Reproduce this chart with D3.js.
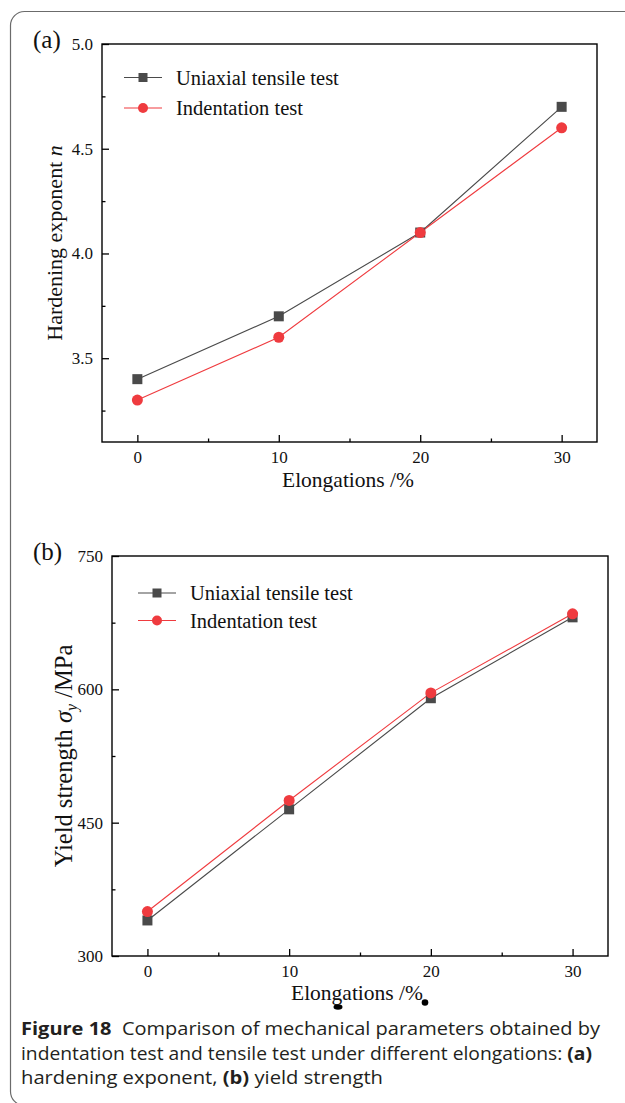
<!DOCTYPE html>
<html>
<head>
<meta charset="utf-8">
<script src="https://cdn.jsdelivr.net/npm/d3@7"></script>
<style>
  body { margin: 0; background: #fff; }
  svg { display: block; }
</style>
</head>
<body>
<div id="chart"></div>
<script>
// data
const elongations = [0, 10, 20, 30];
const seriesNames = ["Uniaxial tensile test", "Indentation test"];
const hardeningTensile = [3.4, 3.7, 4.1, 4.7];
const hardeningIndent = [3.3, 3.6, 4.1, 4.6];
const yieldTensile = [340, 465, 590, 681];
const yieldIndent = [350, 475, 596, 685];
const xTicks = [0, 10, 20, 30];
const hardeningTicks = [3.5, 4.0, 4.5, 5.0];
const yieldTicks = [300, 450, 600, 750];

const width = 625, height = 1103;
const serif = "'Liberation Serif', 'Times New Roman', serif";
const grey = "#4a4a4a", red = "#ef3b3f";

const svg = d3.select("#chart").append("svg")
    .attr("width", width)
    .attr("height", height);

// outer frame with rounded corners (right side runs off the page)
svg.append("rect")
    .attr("x", 10.5).attr("y", 11.5)
    .attr("width", 720).attr("height", 1094)
    .attr("rx", 14)
    .attr("fill", "none")
    .attr("stroke", "#6b6b6b")
    .attr("stroke-width", 1.2);

function panel(opt) {
  const g = svg.append("g");
  const x = d3.scaleLinear().domain([-2.5, 32.5]).range([opt.left, opt.right]);
  const y = d3.scaleLinear().domain(opt.yDomain).range([opt.bottom, opt.top]);

  // minor ticks
  g.append("g")
      .attr("transform", `translate(0,${opt.bottom})`)
      .call(d3.axisBottom(x).tickValues([5, 15, 25]).tickSize(-3.5).tickFormat(""))
      .call(a => a.select(".domain").remove());
  g.append("g")
      .attr("transform", `translate(${opt.left},0)`)
      .call(d3.axisLeft(y).tickValues(opt.minor).tickSize(-3.5).tickFormat(""))
      .call(a => a.select(".domain").remove());

  // major ticks + labels
  const xa = g.append("g")
      .attr("transform", `translate(0,${opt.bottom})`)
      .call(d3.axisBottom(x).tickValues(xTicks).tickSize(-7).tickPadding(opt.xPad).tickFormat(d3.format("d")));
  const ya = g.append("g")
      .attr("transform", `translate(${opt.left},0)`)
      .call(d3.axisLeft(y).tickValues(opt.ticks).tickSize(-7).tickPadding(9).tickFormat(opt.fmt));
  [xa, ya].forEach(a => {
    a.attr("font-size", 17).attr("font-family", serif);
    a.selectAll("text").attr("fill", "#111");
    a.select(".domain").remove();
  });
  g.selectAll("g.tick line").attr("stroke", "#000").attr("stroke-width", 1.3);

  // plot box
  g.append("rect")
      .attr("x", opt.left).attr("y", opt.top)
      .attr("width", opt.right - opt.left).attr("height", opt.bottom - opt.top)
      .attr("fill", "none").attr("stroke", "#000").attr("stroke-width", 1.4);

  // series
  const line = d3.line().x((d, i) => x(elongations[i])).y(d => y(d));
  const series = [
    { values: opt.tensile, color: grey, shape: "square" },
    { values: opt.indent, color: red, shape: "circle" }
  ];
  series.forEach(s => {
    g.append("path").datum(s.values)
        .attr("d", line)
        .attr("fill", "none")
        .attr("stroke", s.color)
        .attr("stroke-width", 1.1);
  });
  series.forEach(s => {
    const pts = g.selectAll(null).data(s.values).enter();
    if (s.shape === "square") {
      pts.append("rect")
          .attr("x", (d, i) => x(elongations[i]) - 5)
          .attr("y", d => y(d) - 5)
          .attr("width", 10).attr("height", 10)
          .attr("fill", s.color);
    } else {
      pts.append("circle")
          .attr("cx", (d, i) => x(elongations[i]))
          .attr("cy", d => y(d))
          .attr("r", 5.5)
          .attr("fill", s.color);
    }
  });

  // legend
  series.forEach((s, i) => {
    const ly = opt.legendY + i * opt.legendGap;
    const lg = g.append("g");
    lg.append("line")
        .attr("x1", opt.legendX).attr("x2", opt.legendX + 38)
        .attr("y1", ly).attr("y2", ly)
        .attr("stroke", s.color).attr("stroke-width", 1.1);
    if (s.shape === "square") {
      lg.append("rect")
          .attr("x", opt.legendX + 19 - 4.5).attr("y", ly - 4.5)
          .attr("width", 9).attr("height", 9).attr("fill", s.color);
    } else {
      lg.append("circle")
          .attr("cx", opt.legendX + 19).attr("cy", ly).attr("r", 5).attr("fill", s.color);
    }
    lg.append("text")
        .attr("x", opt.legendX + 52).attr("y", ly + 7)
        .attr("font-family", serif).attr("font-size", 20.5)
        .attr("fill", "#111")
        .text(seriesNames[i]);
  });

  // panel letter
  g.append("text")
      .attr("x", 33).attr("y", opt.top + 4)
      .attr("font-family", serif).attr("font-size", 25)
      .attr("fill", "#111")
      .text(opt.letter);

  // x title
  g.append("text")
      .attr("x", opt.xTitleX).attr("y", opt.bottom + opt.xTitleDy)
      .attr("text-anchor", "middle")
      .attr("font-family", serif).attr("font-size", 21.5)
      .attr("fill", "#111")
      .text("Elongations /%");

  // y title
  const yt = g.append("text")
      .attr("transform", `translate(${opt.yTitleX},${(opt.top + opt.bottom) / 2}) rotate(-90)`)
      .attr("text-anchor", "middle")
      .attr("font-family", serif).attr("font-size", opt.yTitleSize)
      .attr("fill", "#111");
  opt.yTitle(yt);
  return g;
}

panel({
  left: 102, right: 597, top: 44, bottom: 442,
  yDomain: [3.1, 5.0], ticks: hardeningTicks, minor: [3.25, 3.75, 4.25, 4.75],
  fmt: d3.format(".1f"), xPad: 9,
  tensile: hardeningTensile, indent: hardeningIndent,
  legendX: 124, legendY: 77.5, legendGap: 30.5,
  letter: "(a)", yTitleX: 62, yTitleSize: 22,
  xTitleX: 348, xTitleDy: 45,
  yTitle: t => {
    t.append("tspan").text("Hardening exponent  ");
    t.append("tspan").attr("font-style", "italic").text("n");
  }
});

const gb = panel({
  left: 112, right: 608, top: 556, bottom: 956,
  yDomain: [300, 750], ticks: yieldTicks, minor: [375, 525, 675],
  fmt: d3.format("d"), xPad: 9,
  tensile: yieldTensile, indent: yieldIndent,
  legendX: 138, legendY: 593, legendGap: 27.5,
  letter: "(b)", yTitleX: 72, yTitleSize: 24.5,
  xTitleX: 357, xTitleDy: 44,
  yTitle: t => {
    t.append("tspan").text("Yield strength ");
    t.append("tspan").attr("font-style", "italic").text("σ");
    t.append("tspan").attr("font-style", "italic").attr("font-size", 16).attr("dy", 5).text("y");
    t.append("tspan").attr("dy", -5).text(" /MPa");
  }
});

// scan blemishes near the (b) x title
gb.append("circle").attr("cx", 425).attr("cy", 1002.5).attr("r", 3.3).attr("fill", "#000");
gb.append("ellipse").attr("cx", 338).attr("cy", 1007).attr("rx", 4.5).attr("ry", 2.8).attr("fill", "#000");

// caption
const cap = svg.append("g")
    .attr("font-family", "'Open Sans', 'Noto Sans', sans-serif")
    .attr("font-size", 17.5)
    .attr("fill", "#231f20");
const capLines = [
  [["Figure 18", true], ["  Comparison of mechanical parameters obtained by", false]],
  [["indentation test and tensile test under different elongations: ", false], ["(a)", true]],
  [["hardening exponent, ", false], ["(b)", true], [" yield strength", false]]
];
const capWidths = [579, 571, 362];
capLines.forEach((ln, i) => {
  const t = cap.append("text")
      .attr("x", 21).attr("y", 1035 + i * 24.5)
      .attr("xml:space", "preserve")
      .attr("textLength", capWidths[i])
      .attr("lengthAdjust", "spacingAndGlyphs");
  ln.forEach(([s, b]) => {
    t.append("tspan").attr("font-weight", b ? "bold" : "normal").text(s);
  });
});
</script>
</body>
</html>
